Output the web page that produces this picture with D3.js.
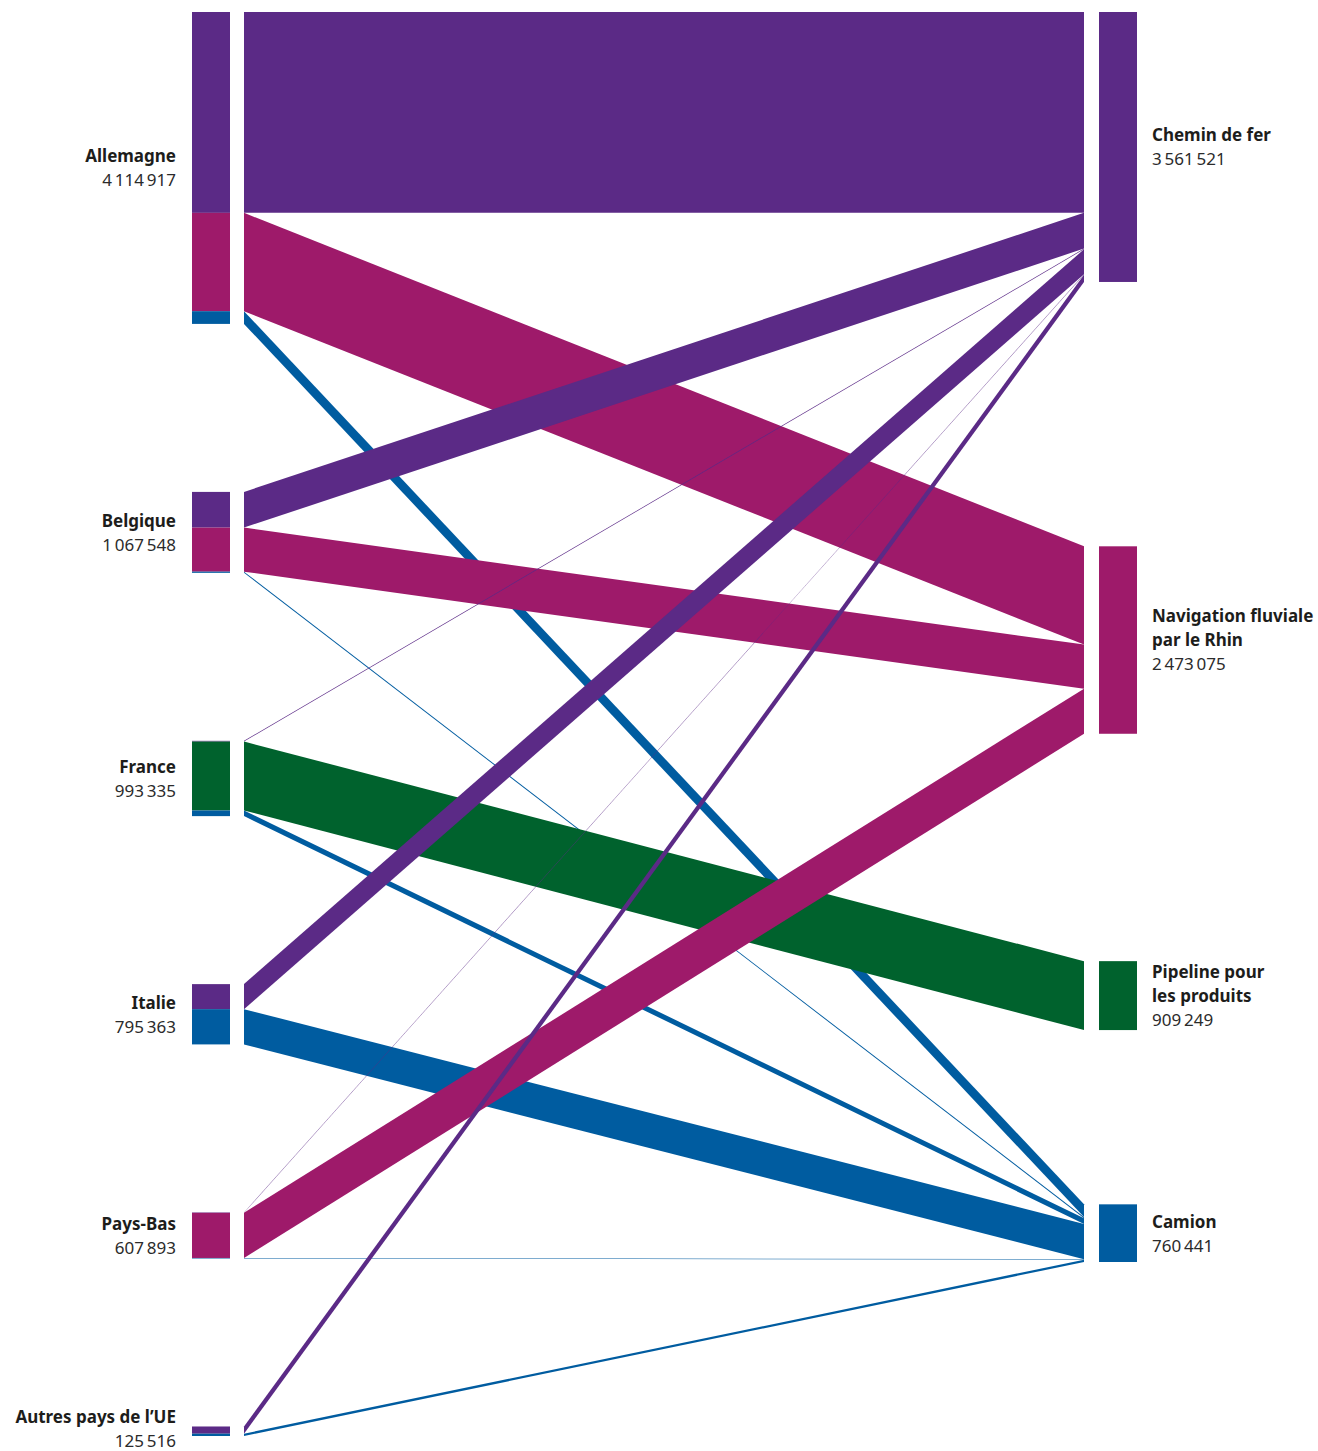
<!DOCTYPE html>
<html lang="fr">
<head>
<meta charset="utf-8">
<script src="https://cdn.jsdelivr.net/npm/d3@7"></script>
<style>
  body { margin: 0; background: #fff; }
  svg text { font-family: "Noto Sans", "Open Sans", sans-serif; font-size: 17px; }
  .name { font-weight: 700; fill: #1d1d1b; }
  .val { font-weight: 400; fill: #2b2b2b; }
</style>
</head>
<body>
<svg width="1318" height="1451"></svg>
<script>
// pays d'origine (colonne de gauche)
var origins = ["Allemagne", "Belgique", "France", "Italie", "Pays-Bas", "Autres pays de l’UE"];
var originTotals = [4114917, 1067548, 993335, 795363, 607893, 125516];

// modes de transport (colonne de droite)
var modes = [["Chemin de fer"], ["Navigation fluviale", "par le Rhin"], ["Pipeline pour", "les produits"], ["Camion"]];
var modeTotals = [3561521, 2473075, 909249, 760441];
var modeColors = ["#5b2a86", "#9e1a6a", "#00622d", "#005ca0"];

// flux par mode, dans l'ordre des pays d'origine
var rail     = [2650000, 471000, 9521, 330000, 6000, 95000];
var rhin     = [1297000, 581000, 0, 0, 595075, 0];
var pipeline = [0, 0, 909249, 0, 0, 0];
var camion   = [167917, 15548, 74565, 465363, 6818, 30516];
var flows = [rail, rhin, pipeline, camion];

var svg = d3.select("svg"),
	H = +svg.attr("height"),
	top0 = 12, bottom0 = 1436,
	rightBottom = 1262,
	gapBase = 320,
	nodeW = 38,
	xLeftBar = 192, xLinkStart = 244, xLinkEnd = 1084, xRightBar = 1099;

var fmt = d3.formatLocale({decimal: ",", thousands: "\u2009", grouping: [3], currency: ["", " €"]}).format(",d");

// --- noeuds et liens ---
var left = origins.map(function(o, i) { return {name: [o], total: originTotals[i], out: []}; });
var right = modes.map(function(m, j) { return {name: m, total: modeTotals[j], color: modeColors[j], inc: []}; });
var links = [];
left.forEach(function(s, i) {
	flows.forEach(function(f, j) {
		if (f[i] > 0) {
			var l = {source: s, target: right[j], value: f[i], color: modeColors[j]};
			links.push(l);
			s.out.push(l);
			right[j].inc.push(l);
		}
	});
});
left.forEach(function(n) { n.value = d3.sum(n.out, function(l) { return l.value; }); });
right.forEach(function(n) { n.value = d3.sum(n.inc, function(l) { return l.value; }); });

// échelle des épaisseurs : la colonne de gauche remplit la hauteur
var leftGap = 168;
var y = d3.scaleLinear()
	.domain([0, d3.sum(left, function(n) { return n.value; })])
	.range([0, bottom0 - top0 - (left.length - 1) * leftGap]);

// colonne de gauche : intervalles égaux
(function() {
	var gap = (bottom0 - top0 - d3.sum(left, function(n) { return y(n.value); })) / (left.length - 1),
		pos = top0;
	left.forEach(function(n) {
		n.y0 = pos; n.y1 = pos + y(n.value);
		pos = n.y1 + gap;
	});
})();

// colonne de droite : intervalles pondérés par la hauteur du noeud au-dessus
(function() {
	var hs = right.map(function(n) { return y(n.value); }),
		free = rightBottom - top0 - d3.sum(hs),
		w = hs.slice(0, -1).map(function(h) { return gapBase + h; }),
		k = free / d3.sum(w),
		pos = top0;
	right.forEach(function(n, i) {
		n.y0 = pos; n.y1 = pos + hs[i];
		pos = n.y1 + (i < w.length ? w[i] * k : 0);
	});
})();

// position des liens dans chaque noeud
left.forEach(function(n) {
	var a = n.y0;
	n.out.forEach(function(l) { l.width = y(l.value); l.y0 = a; a += l.width; });
});
right.forEach(function(n) {
	var b = n.y0;
	n.inc.forEach(function(l) { l.y1 = b; b += l.width; });
});

// --- dessin ---
svg.append("g").selectAll("path")
	.data(links)
	.enter().append("path")
	.attr("fill", function(d) { return d.color; })
	.attr("d", function(d) {
		return "M" + xLinkStart + "," + d.y0 +
			"L" + xLinkEnd + "," + d.y1 +
			"L" + xLinkEnd + "," + (d.y1 + d.width) +
			"L" + xLinkStart + "," + (d.y0 + d.width) + "Z";
	});

// barres de gauche découpées selon les liens
svg.append("g").selectAll("rect")
	.data(links)
	.enter().append("rect")
	.attr("x", xLeftBar)
	.attr("y", function(d) { return d.y0; })
	.attr("width", nodeW)
	.attr("height", function(d) { return d.width; })
	.attr("fill", function(d) { return d.color; });

svg.append("g").selectAll("rect")
	.data(right)
	.enter().append("rect")
	.attr("x", xRightBar)
	.attr("y", function(d) { return d.y0; })
	.attr("width", nodeW)
	.attr("height", function(d) { return d.y1 - d.y0; })
	.attr("fill", function(d) { return d.color; });

var lineH = 24;
function label(g, lines, total, cy) {
	var all = lines.concat([fmt(total)]);
	var first = cy - (all.length - 1) * lineH / 2;
	// garder la dernière ligne dans le cadre
	first = Math.min(first, H - 10 - (all.length - 1) * lineH);
	all.forEach(function(t, k) {
		g.append("text")
			.attr("class", k < lines.length ? "name" : "val")
			.attr("y", first + k * lineH)
			.attr("dy", "0.38em")
			.text(t);
	});
}

svg.append("g").selectAll("g")
	.data(left)
	.enter().append("g")
	.attr("transform", "translate(" + (xLeftBar - 16) + ",0)")
	.attr("text-anchor", "end")
	.each(function(d) { label(d3.select(this), d.name, d.total, (d.y0 + d.y1) / 2); });

svg.append("g").selectAll("g")
	.data(right)
	.enter().append("g")
	.attr("transform", "translate(" + (xRightBar + nodeW + 15) + ",0)")
	.attr("text-anchor", "start")
	.each(function(d) { label(d3.select(this), d.name, d.total, (d.y0 + d.y1) / 2); });
</script>
</body>
</html>
